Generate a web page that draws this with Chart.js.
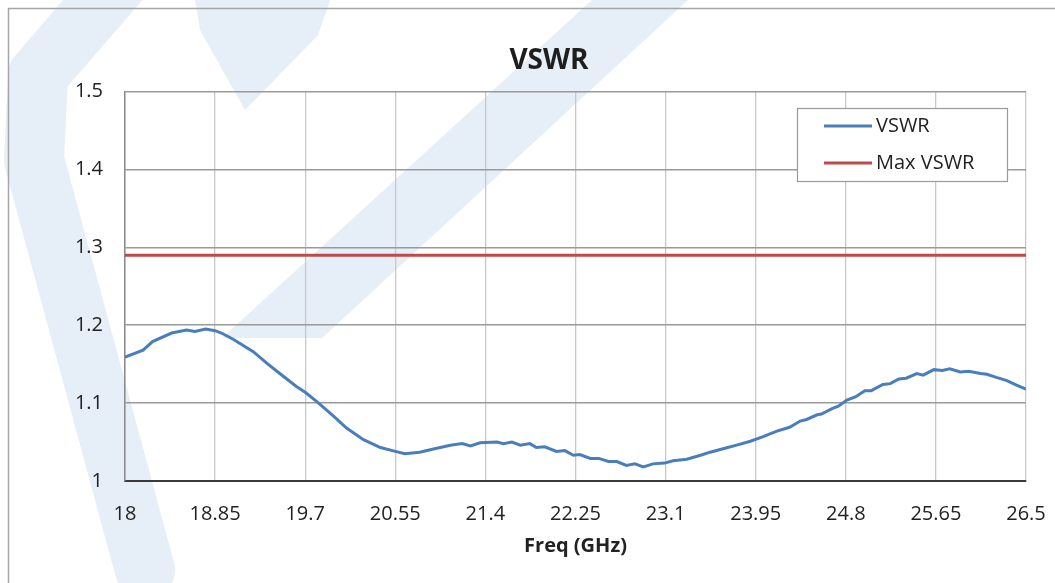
<!DOCTYPE html>
<html>
<head>
<meta charset="utf-8">
<script src="https://cdn.jsdelivr.net/npm/chart.js@4.4.1/dist/chart.umd.min.js"></script>
<style>
  body { margin: 0; background: #fff; }
  canvas { display: block; }
</style>
</head>
<body>
<canvas id="myChart" width="1055" height="583"></canvas>
<script>
var freqs = [18.00,18.17,18.26,18.44,18.58,18.66,18.76,18.85,18.91,19.02,19.21,19.34,19.46,19.62,19.70,19.81,19.97,20.09,20.25,20.41,
  20.55,20.64,20.78,20.91,21.07,21.18,21.26,21.35,21.51,21.57,21.65,21.73,21.82,21.88,21.96,22.07,22.15,22.23,22.29,22.39,
  22.47,22.56,22.64,22.73,22.81,22.89,22.98,23.09,23.17,23.30,23.43,23.52,23.66,23.77,23.90,24.02,24.15,24.27,24.37,24.43,
  24.53,24.57,24.67,24.73,24.81,24.89,24.98,25.04,25.15,25.22,25.30,25.37,25.47,25.53,25.63,25.71,25.78,25.88,25.96,26.07,
  26.13,26.22,26.32,26.41,26.50];
var vswr = [1.159,1.168,1.179,1.190,1.194,1.192,1.195,1.193,1.190,1.182,1.166,1.151,1.138,1.121,1.114,1.102,1.083,1.068,1.053,1.043,
  1.038,1.035,1.037,1.041,1.046,1.048,1.045,1.049,1.050,1.048,1.050,1.046,1.048,1.043,1.044,1.038,1.039,1.033,1.034,1.029,
  1.029,1.025,1.025,1.020,1.022,1.018,1.022,1.023,1.026,1.028,1.033,1.037,1.042,1.046,1.051,1.057,1.064,1.069,1.077,1.079,
  1.085,1.086,1.093,1.096,1.104,1.108,1.116,1.116,1.124,1.125,1.131,1.132,1.138,1.136,1.143,1.142,1.144,1.140,1.141,1.138,
  1.137,1.133,1.129,1.123,1.118];
var maxVswr = 1.29;
var xTicks = [18, 18.85, 19.7, 20.55, 21.4, 22.25, 23.1, 23.95, 24.8, 25.65, 26.5];
var yTicks = [1, 1.1, 1.2, 1.3, 1.4, 1.5];

var FONT = "'Open Sans', sans-serif";

// faint logo in the background + outer chart border
var backdrop = {
  id: 'backdrop',
  beforeDraw: function(chart) {
    var c = chart.ctx;
    c.save();
    c.fillStyle = '#fff';
    c.fillRect(0, 0, chart.width, chart.height);
    c.fillStyle = '#e6eef7';
    c.strokeStyle = '#e6eef7';
    c.lineWidth = 60;
    c.lineCap = 'round';
    c.lineJoin = 'round';
    c.beginPath();
    c.moveTo(120, -20);
    c.lineTo(38, 75);
    c.lineTo(34, 160);
    c.lineTo(145, 570);
    c.stroke();
    c.beginPath();
    c.moveTo(592, 0); c.lineTo(688, 0); c.lineTo(322, 338); c.lineTo(222, 338);
    c.closePath(); c.fill();
    c.beginPath();
    c.moveTo(195, 0); c.lineTo(330, 0); c.lineTo(318, 35); c.lineTo(245, 110); c.lineTo(200, 30);
    c.closePath(); c.fill();
    c.restore();

    c.save();
    c.strokeStyle = '#a6a6a6';
    c.lineWidth = 1.5;
    c.beginPath();
    c.moveTo(8.5, 600);
    c.lineTo(8.5, 8.5);
    c.lineTo(1100, 8.5);
    c.stroke();
    c.restore();
  },
  afterDraw: function(chart) {
    // legend box inside the plot
    var c = chart.ctx;
    var bx = 797.5, by = 108.5, bw = 210, bh = 73;
    c.save();
    c.fillStyle = '#fff';
    c.fillRect(bx, by, bw, bh);
    c.strokeStyle = '#9a9a9a';
    c.lineWidth = 1.2;
    c.strokeRect(bx, by, bw, bh);
    c.font = '20px ' + FONT;
    c.textBaseline = 'middle';
    c.fillStyle = '#222';
    var rows = [126, 163];
    chart.data.datasets.forEach(function(ds, i) {
      c.strokeStyle = ds.borderColor;
      c.lineWidth = 3;
      c.beginPath();
      c.moveTo(824, rows[i]);
      c.lineTo(872, rows[i]);
      c.stroke();
      c.fillText(ds.label, 876, rows[i]);
    });
    c.restore();
  }
};

function fmt(v) { return String(Number(v.toFixed(2))); }

var ctx = document.getElementById('myChart').getContext('2d');
var chart = new Chart(ctx, {
  type: 'line',
  data: {
    datasets: [{
      label: 'VSWR',
      data: freqs.map(function(f, i) { return { x: f, y: vswr[i] }; }),
      borderColor: '#4a7ebb',
      borderWidth: 3,
      pointRadius: 0,
      tension: 0
    }, {
      label: 'Max VSWR',
      data: [{ x: xTicks[0], y: maxVswr }, { x: xTicks[xTicks.length - 1], y: maxVswr }],
      borderColor: '#be4b48',
      borderWidth: 3,
      pointRadius: 0
    }]
  },
  options: {
    responsive: false,
    animation: false,
    layout: { padding: { left: 72, right: 29, top: 0, bottom: 0 } },
    plugins: {
      legend: { display: false },
      tooltip: { enabled: false },
      title: {
        display: true,
        text: 'VSWR',
        color: '#1e1e1e',
        font: { family: FONT, size: 28, weight: 'bold' },
        padding: { top: 44, bottom: 14 }
      }
    },
    scales: {
      x: {
        type: 'linear',
        min: xTicks[0],
        max: xTicks[xTicks.length - 1],
        afterBuildTicks: function(scale) {
          scale.ticks = xTicks.map(function(v) { return { value: v }; });
        },
        afterFit: function(scale) {
          scale.height = 102;
          scale.paddingLeft = 0;
          scale.paddingRight = 0;
        },
        ticks: {
          callback: fmt,
          color: '#222',
          font: { family: FONT, size: 20 },
          padding: 21,
          maxRotation: 0,
          autoSkip: false
        },
        grid: { color: '#c8c8c8', lineWidth: 1.3, drawTicks: false },
        border: { color: '#3a3a3a', width: 2 },
        title: {
          display: true,
          text: 'Freq (GHz)',
          color: '#222',
          font: { family: FONT, size: 20, weight: 'bold' },
          padding: { top: 11, bottom: 25 }
        }
      },
      y: {
        min: yTicks[0],
        max: yTicks[yTicks.length - 1],
        afterBuildTicks: function(scale) {
          scale.ticks = yTicks.map(function(v) { return { value: v }; });
        },
        afterFit: function(scale) { scale.width = 53; },
        ticks: {
          callback: fmt,
          color: '#222',
          font: { family: FONT, size: 20 },
          padding: 22
        },
        grid: { color: '#9a9a9a', lineWidth: 1.5, drawTicks: false },
        border: { color: '#8a8a8a', width: 1.5 }
      }
    }
  },
  plugins: [backdrop]
});
</script>
</body>
</html>
